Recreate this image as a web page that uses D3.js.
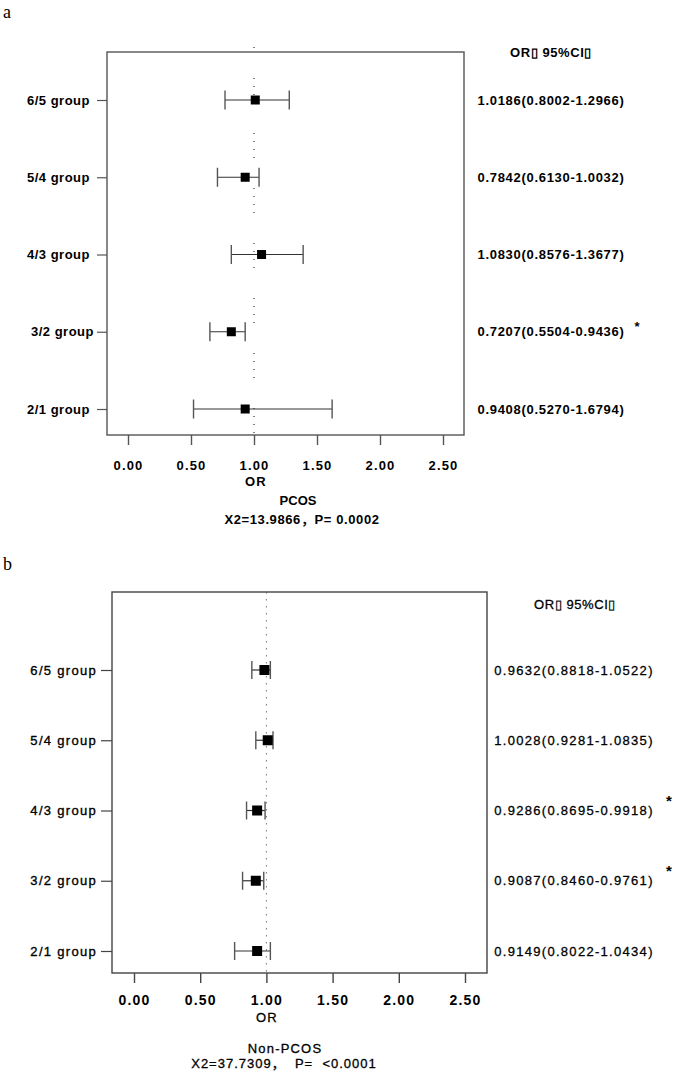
<!DOCTYPE html>
<html>
<head>
<meta charset="utf-8">
<script src="https://cdn.jsdelivr.net/npm/d3@7/dist/d3.min.js"></script>
<style>
  html, body { margin: 0; padding: 0; background: #fff; }
  svg { display: block; }
  text { font-family: "Liberation Sans", Arial, "Noto Sans CJK JP", sans-serif; fill: #000; white-space: pre; }
</style>
</head>
<body>
<svg id="chart" width="675" height="1073"></svg>
<script>
// ---------- data ----------
const groups = ["6/5 group", "5/4 group", "4/3 group", "3/2 group", "2/1 group"];
const xTicks = [0, 0.5, 1, 1.5, 2, 2.5];

// panel a (PCOS): plotted OR and CI
const pcosOR   = [1.01, 0.93, 1.06, 0.82, 0.93];
const pcosLow  = [0.77, 0.71, 0.82, 0.65, 0.52];
const pcosHigh = [1.28, 1.04, 1.39, 0.93, 1.62];
const pcosText = ["1.0186(0.8002-1.2966)", "0.7842(0.6130-1.0032)", "1.0830(0.8576-1.3677)",
                  "0.7207(0.5504-0.9436)", "0.9408(0.5270-1.6794)"];
const pcosSig  = [false, false, false, true, false];

// panel b (Non-PCOS)
const nonOR   = [0.985, 1.01, 0.93, 0.92, 0.93];
const nonLow  = [0.89, 0.92, 0.85, 0.82, 0.76];
const nonHigh = [1.03, 1.05, 0.99, 0.98, 1.03];
const nonText = ["0.9632(0.8818-1.0522)", "1.0028(0.9281-1.0835)", "0.9286(0.8695-0.9918)",
                 "0.9087(0.8460-0.9761)", "0.9149(0.8022-1.0434)"];
const nonSig  = [false, false, true, true, false];

const headerText = "OR\u25AF 95%CI\u25AF";

// ---------- drawing ----------
const svg = d3.select("#chart");
const FONT = '"Liberation Sans", Arial, "Noto Sans CJK JP", sans-serif';

function panel(cfg) {
  const g = svg.append("g");
  const x = d3.scaleLinear().domain([0, 2.5]).range(cfg.xRange);
  const y = d3.scalePoint().domain(groups).range(cfg.yRange);
  const rows = groups.map((name, i) => ({
    name, i, or: cfg.or[i], lo: cfg.lo[i], hi: cfg.hi[i], txt: cfg.txt[i], sig: cfg.sig[i]
  }));

  // reference line at OR = 1
  g.append("line")
    .attr("x1", x(1)).attr("x2", x(1))
    .attr("y1", cfg.refTop).attr("y2", cfg.box.b)
    .attr("stroke", cfg.refColor).attr("stroke-width", 1)
    .attr("stroke-dasharray", cfg.refDash)
    .attr("stroke-dashoffset", cfg.refOffset);

  // frame
  g.append("rect")
    .attr("x", cfg.box.l).attr("y", cfg.box.t)
    .attr("width", cfg.box.r - cfg.box.l).attr("height", cfg.box.b - cfg.box.t)
    .attr("fill", "none").attr("stroke", cfg.frameColor).attr("stroke-width", 1.4);

  // x axis
  const xAxis = d3.axisBottom(x).tickValues(xTicks).tickSize(10).tickSizeOuter(0)
    .tickFormat(d3.format(".2f"));
  const ax = g.append("g").attr("transform", `translate(0,${cfg.box.b})`).call(xAxis);
  ax.select(".domain").remove();
  ax.selectAll(".tick line").attr("stroke", cfg.frameColor).attr("stroke-width", 1.4);
  ax.selectAll(".tick text")
    .attr("y", cfg.tickLabelDy).attr("dy", 0)
    .style("font-size", cfg.tickFont + "px").style("font-weight", "bold")
    .style("letter-spacing", cfg.tickLs + "px")
    .style("font-family", FONT);

  // y axis (group labels)
  const yAxis = d3.axisLeft(y).tickSize(cfg.yTickLen).tickPadding(cfg.yPad).tickSizeOuter(0);
  const ay = g.append("g").attr("transform", `translate(${cfg.box.l},0)`).call(yAxis);
  ay.select(".domain").remove();
  ay.selectAll(".tick line").attr("stroke", cfg.frameColor).attr("stroke-width", 1.2);
  ay.selectAll(".tick text")
    .style("font-size", "13px").style("font-weight", cfg.labelWeight)
    .style("letter-spacing", cfg.labelLs + "px")
    .style("font-family", FONT)
    .attr("stroke", cfg.labelStroke ? "#000" : null)
    .attr("stroke-width", cfg.labelStroke ? 0.35 : null)
    .attr("dx", (d) => (cfg.labelShift && cfg.labelShift[d]) || 0);

  // CI lines
  const eb = g.append("g").selectAll("g").data(rows).join("g");
  eb.append("line")
    .attr("x1", d => x(d.lo)).attr("x2", d => x(d.hi))
    .attr("y1", d => y(d.name)).attr("y2", d => y(d.name))
    .attr("stroke", "#333").attr("stroke-width", 1.2);
  eb.append("line")
    .attr("x1", d => x(d.lo)).attr("x2", d => x(d.lo))
    .attr("y1", d => y(d.name) - cfg.cap).attr("y2", d => y(d.name) + cfg.cap)
    .attr("stroke", "#555").attr("stroke-width", 1.4);
  eb.append("line")
    .attr("x1", d => x(d.hi)).attr("x2", d => x(d.hi))
    .attr("y1", d => y(d.name) - cfg.cap).attr("y2", d => y(d.name) + cfg.cap)
    .attr("stroke", "#555").attr("stroke-width", 1.4);
  eb.append("rect")
    .attr("x", d => x(d.or) - cfg.sq / 2).attr("y", d => y(d.name) - cfg.sq / 2)
    .attr("width", cfg.sq).attr("height", cfg.sq).attr("fill", "#000");

  // right column text
  g.append("text")
    .attr("x", cfg.headX).attr("y", cfg.headY).attr("dy", "0.35em")
    .attr("text-anchor", "middle")
    .style("font-size", "13px").style("font-weight", cfg.labelWeight === "bold" ? "bold" : "normal")
    .style("letter-spacing", "0.6px")
    .attr("stroke", cfg.labelStroke ? "#000" : null).attr("stroke-width", cfg.labelStroke ? 0.3 : null)
    .text(headerText);
  g.append("g").selectAll("text").data(rows).join("text")
    .attr("x", cfg.valX).attr("y", d => y(d.name)).attr("dy", "0.35em")
    .attr("text-anchor", "middle")
    .style("font-size", "13px").style("font-weight", cfg.labelWeight)
    .style("letter-spacing", cfg.valLs + "px")
    .attr("stroke", cfg.labelStroke ? "#000" : null).attr("stroke-width", cfg.labelStroke ? 0.3 : null)
    .text(d => d.txt);
  g.append("g").selectAll("text").data(rows.filter(d => d.sig)).join("text")
    .attr("x", cfg.starX).attr("y", d => y(d.name) + cfg.starDy).attr("dy", "0.35em")
    .attr("text-anchor", "middle")
    .style("font-size", cfg.starFont + "px").style("font-weight", "bold")
    .text("*");

  // titles under axis
  cfg.titles.forEach(t => {
    g.append("text").attr("x", t.x).attr("y", t.y).attr("text-anchor", "middle")
      .style("font-size", t.size + "px").style("font-weight", t.weight)
      .style("letter-spacing", (t.ls || 0) + "px")
      .attr("stroke", t.stroke ? "#000" : null).attr("stroke-width", t.stroke ? 0.3 : null)
      .text(t.text);
  });
}

// panel letters
svg.append("text").attr("x", 3).attr("y", 18)
  .style("font-family", '"Liberation Serif", "DejaVu Serif", serif').style("font-size", "18px").text("a");
svg.append("text").attr("x", 3).attr("y", 570)
  .style("font-family", '"Liberation Serif", "DejaVu Serif", serif').style("font-size", "18px").text("b");

panel({
  or: pcosOR, lo: pcosLow, hi: pcosHigh, txt: pcosText, sig: pcosSig,
  xRange: [128, 443], yRange: [100, 409],
  box: { l: 107, t: 52, r: 464, b: 435 },
  frameColor: "#555",
  refTop: 45, refColor: "#000", refDash: "1,7,1,7,1,7,1,30", refOffset: 22,
  tickLabelDy: 35, tickFont: 13, tickLs: 1.2,
  yTickLen: 10, yPad: 7, labelWeight: "bold", labelLs: 0.5, labelStroke: false,
  labelShift: { "3/2 group": 4 },
  cap: 9.5, sq: 9,
  headX: 551, headY: 52, valX: 551, valLs: 0.7,
  starX: 637, starDy: -5, starFont: 13,
  titles: [
    { x: 256, y: 486, text: "OR", size: 13, weight: "bold", ls: 1.2 },
    { x: 298, y: 505, text: "PCOS", size: 13, weight: "bold", ls: 0 },
    { x: 302, y: 524, text: "X2=13.9866，P= 0.0002", size: 13, weight: "bold", ls: 0.6 }
  ]
});

panel({
  or: nonOR, lo: nonLow, hi: nonHigh, txt: nonText, sig: nonSig,
  xRange: [134, 465], yRange: [670, 951],
  box: { l: 112, t: 592, r: 487, b: 973 },
  frameColor: "#444",
  refTop: 592, refColor: "#777", refDash: "1.5,5.5", refOffset: 0,
  tickLabelDy: 32, tickFont: 14, tickLs: 1.2,
  yTickLen: 11, yPad: 4, labelWeight: "normal", labelLs: 1.3, labelStroke: true,
  labelShift: {},
  cap: 9, sq: 10,
  headX: 575, headY: 604, valX: 574, valLs: 1.3,
  starX: 669, starDy: -10, starFont: 15,
  titles: [
    { x: 267, y: 1022, text: "OR", size: 13, weight: "normal", ls: 1.2, stroke: true },
    { x: 285, y: 1053, text: "Non-PCOS", size: 13, weight: "normal", ls: 1.2, stroke: true },
    { x: 284, y: 1068, text: "X2=37.7309，  P=  <0.0001", size: 13, weight: "normal", ls: 1.0, stroke: true }
  ]
});
</script>
</body>
</html>
